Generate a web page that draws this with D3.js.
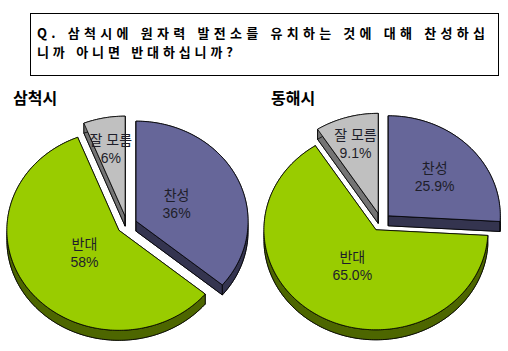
<!DOCTYPE html>
<html lang="ko">
<head>
  <meta charset="UTF-8">
  <title>원자력 발전소 유치 찬반</title>
  <script src="https://d3js.org/d3.v7.min.js"></script>
  <style>
    body { margin: 0; background: #fff; }
    text { font-family: "Liberation Sans", "Noto Sans CJK KR", sans-serif; }
  </style>
</head>
<body>
  <div id="chart"></div>

  <script>
    // data
    const titleLines = ["Q. 삼척시에 원자력 발전소를 유치하는 것에 대해 찬성하십", "니까 아니면 반대하십니까?"];
    const categories = ["찬성", "반대", "잘 모름"];
    const cities = ["삼척시", "동해시"];
    const samcheokValues = [36, 58, 6];
    const donghaeValues = [25.9, 65.0, 9.1];
    const samcheokLabels = ["36%", "58%", "6%"];
    const donghaeLabels = ["25.9%", "65.0%", "9.1%"];

    const width = 508, height = 351;
    const topColors = ["#666699", "#99cc00", "#c0c0c0"];
    const sideColors = ["#34344f", "#4d6600", "#747474"];

    const rx = 112, ry = 100, depth = 10;
    const ex = 10, ey = 9;   // explode distance

    const pies = [
      { name: cities[0], values: samcheokValues, labels: samcheokLabels, cx: 127, cy: 225, titleX: 13, labelR: [0.4, 0.38, 0.68] },
      { name: cities[1], values: donghaeValues, labels: donghaeLabels, cx: 381, cy: 222, titleX: 271, labelR: [0.57, 0.42, 0.72] }
    ];

    const svg = d3.select("#chart").append("svg")
      .attr("width", width)
      .attr("height", height);

    svg.append("rect").attr("width", width).attr("height", height).attr("fill", "#fff");

    // question box
    svg.append("rect")
      .attr("x", 30.5).attr("y", 13.5)
      .attr("width", 468).attr("height", 62)
      .attr("fill", "none").attr("stroke", "#000");

    const title = svg.append("text")
      .style("font-family", "'Noto Sans CJK KR', sans-serif")
      .style("font-size", "13px")
      .style("font-weight", "bold");
    title.selectAll("tspan")
      .data(titleLines)
      .enter().append("tspan")
        .attr("x", 37)
        .attr("y", (d, i) => 38 + i * 19)
        .attr("textLength", (d, i) => i === 0 ? 448 : 196)
        .attr("lengthAdjust", "spacing")
        .text(d => d);

    const pie = d3.pie().sort(null).startAngle(0).endAngle(2 * Math.PI);

    // ellipse projection of a point at angle a (clockwise from top)
    const proj = (a, r) => [rx * r * Math.sin(a), -ry * r * Math.cos(a)];

    function arcPts(a0, a1, ox, oy) {
      const n = Math.max(2, Math.ceil((a1 - a0) / 0.02));
      return d3.range(n + 1).map(i => {
        const a = a0 + (a1 - a0) * i / n;
        const p = proj(a, 1);
        return [ox + p[0], oy + p[1]];
      });
    }

    const line = d3.line();

    pies.forEach(p => {
      const g = svg.append("g");

      g.append("text")
        .attr("x", p.titleX)
        .attr("y", 104)
        .style("font-family", "'Noto Sans CJK KR', sans-serif")
        .style("font-size", "16px")
        .style("font-weight", "bold")
        .text(p.name);

      const slices = pie(p.values).map((d, i) => {
        const mid = (d.startAngle + d.endAngle) / 2;
        return {
          d, i, mid,
          ox: p.cx + ex * Math.sin(mid),
          oy: p.cy - ey * Math.cos(mid)
        };
      });

      // back slices first
      slices.slice().sort((a, b) => a.oy - b.oy).forEach(s => {
        const { d, i, ox, oy } = s;
        const top = [[ox, oy]].concat(arcPts(d.startAngle, d.endAngle, ox, oy));
        const bottom = top.map(q => [q[0], q[1] + depth]);
        const sg = g.append("g")
          .attr("stroke", "#000")
          .attr("stroke-width", 0.8)
          .attr("stroke-linejoin", "round");

        sg.append("path").attr("d", line(bottom) + "Z").attr("fill", sideColors[i]);

        [d.startAngle, d.endAngle].forEach(a => {
          const e = proj(a, 1);
          const wall = [[ox, oy], [ox + e[0], oy + e[1]], [ox + e[0], oy + e[1] + depth], [ox, oy + depth]];
          sg.append("path").attr("d", line(wall) + "Z").attr("fill", sideColors[i]);
        });

        const rimTop = arcPts(d.startAngle, d.endAngle, ox, oy);
        const rim = rimTop.concat(rimTop.map(q => [q[0], q[1] + depth]).reverse());
        sg.append("path").attr("d", line(rim) + "Z").attr("fill", sideColors[i]);

        sg.append("path").attr("d", line(top) + "Z").attr("fill", topColors[i]);
      });

      // labels
      slices.forEach(s => {
        const q = proj(s.mid, p.labelR[s.i]);
        const lx = s.ox + q[0], ly = s.oy + q[1];
        const t = g.append("text")
          .attr("text-anchor", "middle")
          .attr("fill", "#1e1e2a")
          .style("font-size", "14px");
        t.append("tspan").attr("x", lx).attr("y", ly - 4).text(categories[s.i]);
        t.append("tspan").attr("x", lx).attr("y", ly + 14).text(p.labels[s.i]);
      });
    });
  </script>
</body>
</html>
